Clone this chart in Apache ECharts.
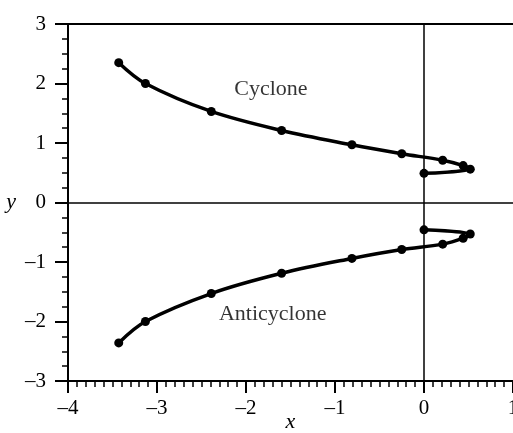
<!DOCTYPE html>
<html>
<head>
<meta charset="utf-8">
<script src="https://cdn.jsdelivr.net/npm/echarts@6/dist/echarts.min.js"></script>
<style>
  html, body { margin: 0; padding: 0; background: #fff; }
  #chart { width: 513px; height: 433px; }
</style>
</head>
<body>
<div id="chart"></div>
<script>
// trajectory points (x, y)
const cycloneX = [-3.43, -3.13, -2.39, -1.60, -0.81, -0.25, 0.21, 0.44, 0.52, 0.0];
const cycloneY = [2.35, 2.00, 1.53, 1.21, 0.97, 0.82, 0.71, 0.62, 0.56, 0.49];
const antiX = [-3.43, -3.13, -2.39, -1.60, -0.81, -0.25, 0.21, 0.44, 0.52, 0.0];
const antiY = [-2.36, -2.00, -1.53, -1.19, -0.94, -0.79, -0.70, -0.60, -0.53, -0.46];
const labelNames = ['Cyclone', 'Anticyclone'];
const labelX = [-1.72, -1.70];
const labelY = [1.91, -1.87];

const serif = 'Liberation Serif';
const dash = v => String(v).replace('-', '\u2013');

const pairs = (xs, ys) => xs.map((x, i) => [x, ys[i]]);

const lineSeries = (name, xs, ys) => ({
  name: name,
  type: 'line',
  data: pairs(xs, ys),
  smooth: 0.35,
  symbol: 'circle',
  symbolSize: 9,
  showAllSymbol: true,
  lineStyle: { color: '#000', width: 3.5 },
  itemStyle: { color: '#000' },
  silent: true,
  z: 3
});

const option = {
  animation: false,
  backgroundColor: '#fff',
  grid: { left: 68, right: 0, top: 24, bottom: 52, outerBoundsMode: 'none', containLabel: false },
  xAxis: [
    {
      type: 'value',
      min: -4, max: 1, interval: 1,
      name: 'x',
      nameLocation: 'middle',
      nameGap: 30,
      nameMoveOverlap: false,
      nameTextStyle: { fontFamily: serif, fontStyle: 'italic', fontSize: 22, color: '#000' },
      axisLine: { show: true, onZero: false, lineStyle: { color: '#000', width: 2 } },
      axisTick: { show: true, inside: false, length: 12, lineStyle: { color: '#000', width: 2 } },
      minorTick: { show: true, splitNumber: 10, length: 6, lineStyle: { color: '#000', width: 1.5 } },
      axisLabel: { fontFamily: serif, fontSize: 21, color: '#000', margin: 17, formatter: dash,
                   showMaxLabel: true },
      splitLine: { show: false }
    },
    {
      type: 'value', position: 'top',
      min: -4, max: 1,
      axisLine: { show: true, onZero: false, lineStyle: { color: '#000', width: 2 } },
      axisTick: { show: false }, axisLabel: { show: false }, splitLine: { show: false }
    }
  ],
  yAxis: {
    type: 'value',
    min: -3, max: 3, interval: 1,
    name: 'y',
    nameLocation: 'middle',
    nameRotate: 0,
    nameGap: 52,
    nameMoveOverlap: false,
    nameTextStyle: { fontFamily: serif, fontStyle: 'italic', fontSize: 22, color: '#000' },
    axisLine: { show: true, onZero: false, lineStyle: { color: '#000', width: 2 } },
    axisTick: { show: true, inside: false, length: 13, lineStyle: { color: '#000', width: 2 } },
    minorTick: { show: true, splitNumber: 4, length: 6, lineStyle: { color: '#000', width: 1.5 } },
    axisLabel: { fontFamily: serif, fontSize: 21, color: '#000', margin: 22, formatter: dash },
    splitLine: { show: false }
  },
  series: [
    Object.assign(lineSeries('Cyclone', cycloneX, cycloneY), {
      markLine: {
        silent: true,
        symbol: 'none',
        label: { show: false },
        lineStyle: { color: '#000', width: 1.5, type: 'solid' },
        data: [{ xAxis: 0 }, { yAxis: 0 }]
      }
    }),
    lineSeries('Anticyclone', antiX, antiY),
    {
      type: 'scatter',
      symbolSize: 0,
      silent: true,
      data: labelNames.map((n, i) => ({ name: n, value: [labelX[i], labelY[i]] })),
      label: {
        show: true,
        position: 'inside',
        formatter: p => p.name,
        fontFamily: serif, fontSize: 22, color: '#000'
      }
    }
  ]
};

const chart = echarts.init(document.getElementById('chart'));
chart.setOption(option);
window.onresize = function () { chart.resize(); };
</script>
</body>
</html>
